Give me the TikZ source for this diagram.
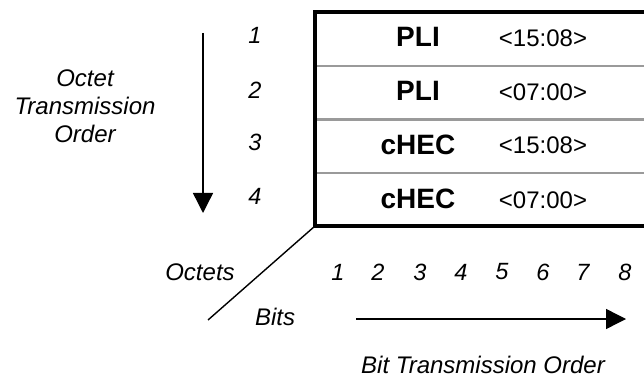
\documentclass[tikz,border=0pt]{standalone}
\usepackage{fontspec}
\setmainfont{Liberation Sans}
\usetikzlibrary{arrows.meta}
\definecolor{divgray}{HTML}{9A9A9A}
\tikzset{
  lbl/.style={inner sep=0pt, font=\fontsize{24}{28}\selectfont\itshape},
  num/.style={inner sep=0pt, font=\fontsize{23.5}{26}\selectfont\itshape},
  fld/.style={inner sep=0pt, font=\fontsize{28}{32}\selectfont\bfseries},
  bitr/.style={inner sep=0pt, font=\fontsize{24}{28}\selectfont},
  frame/.style={line width=4.8pt, line join=miter},
  divider/.style={line width=2.5pt, divgray},
  conn/.style={line width=1.4pt},
  arr/.style={conn, -{Triangle[width=20pt,length=20pt]}}
}
\begin{document}
\begin{tikzpicture}[x=1pt,y=-1pt]
\useasboundingbox (0,0) rectangle (644,379);
% dividers
\draw[divider] (315,66) -- (644,66);
\draw[divider] (315,119.5) -- (644,119.5);
\draw[divider] (315,173) -- (644,173);
% frame
\coordinate (tr) at (646,12);
\coordinate (tl) at (315,12);
\coordinate (bl) at (315,226);
\coordinate (br) at (646,226);
\draw[frame] (tr) -- (tl) -- (bl) -- (br);
% fields
\node[fld] (f1) at (418,37) {PLI};
\node[fld] (f2) at (418,91) {PLI};
\node[fld] (f3) at (418,144.5) {cHEC};
\node[fld] (f4) at (418,199) {cHEC};
\node[bitr] (r1) at (543,38) {<15:08>};
\node[bitr] (r2) at (543,92) {<07:00>};
\node[bitr] (r3) at (543,145.5) {<15:08>};
\node[bitr] (r4) at (543,200) {<07:00>};
% octet numbers
\node[num] (o1) at (255,35) {1};
\node[num] (o2) at (255,90) {2};
\node[num] (o3) at (255,142) {3};
\node[num] (o4) at (255,196) {4};
% octet transmission order
\node[lbl, align=center] (oto) at (85,106) {Octet\\Transmission\\Order};
\coordinate (va) at (203,33);
\coordinate (vb) at (203,213);
\draw[arr] (va) -- (vb);
% diagonal
\coordinate (dg) at (208,320);
\draw[conn] (bl) -- (dg);
\node[lbl] (octs) at (200,272) {Octets};
\node[lbl] (bits) at (275,317) {Bits};
% bit numbers
\foreach \i/\x in {1/338,2/378,3/420,4/461,5/502,6/543,7/583,8/625}
  \node[num] (b\i) at (\x,272) {\i};
% bit arrow
\coordinate (ha) at (356,319);
\coordinate (hb) at (626,319);
\draw[arr] (ha) -- (hb);
\node[lbl] (bto) at (483,365) {Bit Transmission Order};
\end{tikzpicture}
\end{document}
